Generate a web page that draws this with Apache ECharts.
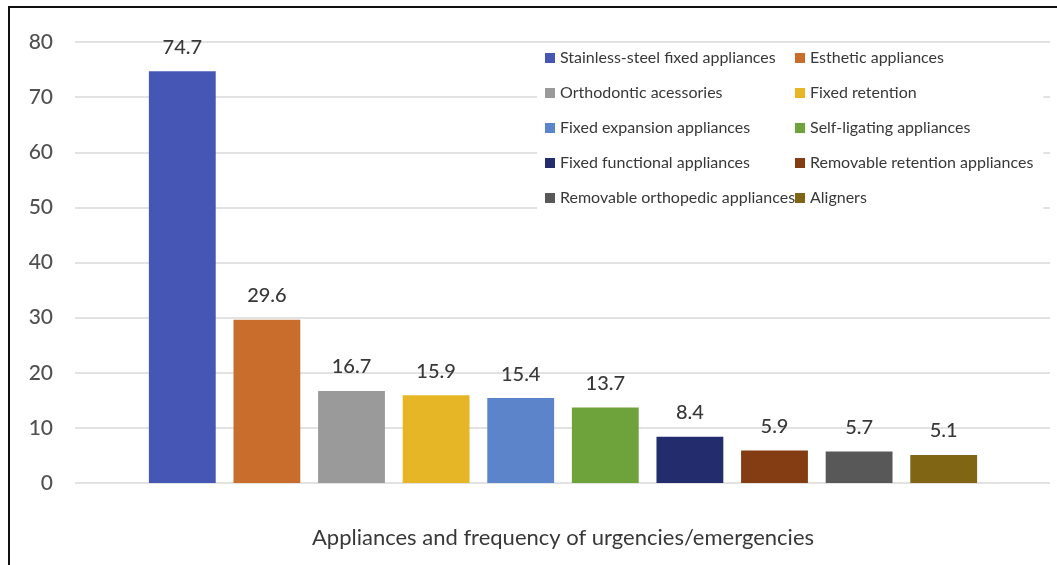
<!DOCTYPE html>
<html>
<head>
<meta charset="utf-8">
<script src="https://cdn.jsdelivr.net/npm/echarts@6/dist/echarts.min.js"></script>
<style>
  html,body{margin:0;padding:0;background:#fff;}
  #chart{position:absolute;left:0;top:0;width:1057px;height:565px;}
  #frame{position:absolute;left:8px;top:6px;width:1100px;height:600px;
    border-left:2px solid #111;border-top:2px solid #111;pointer-events:none;}
</style>
</head>
<body>
<div id="chart"></div>
<div id="frame"></div>
<script>
// data
var categories = [
  'Stainless-steel fixed appliances',
  'Esthetic appliances',
  'Orthodontic acessories',
  'Fixed retention',
  'Fixed expansion appliances',
  'Self-ligating appliances',
  'Fixed functional appliances',
  'Removable retention appliances',
  'Removable orthopedic appliances',
  'Aligners'
];
var values = [74.7, 29.6, 16.7, 15.9, 15.4, 13.7, 8.4, 5.9, 5.7, 5.1];
var colors = ['#4656b4','#c86d2c','#9a9a9a','#e7b627','#5b84cb',
              '#6ea33b','#232c6c','#843c13','#585858','#7f6514'];
var yTicks = {min: 0, max: 80, interval: 10};

var font = 'Lato, "Open Sans", sans-serif';
var txt = '#383838';

var chart = echarts.init(document.getElementById('chart'));

// one series per appliance so each gets its own legend entry
var series = categories.map(function(name, i){
  return {
    name: name,
    type: 'bar',
    stack: 'all',
    xAxisIndex: 1,
    yAxisIndex: 1,
    barWidth: '79%',
    itemStyle: {color: colors[i]},
    label: {
      show: true, position: 'top', distance: 14,
      color: txt, fontSize: 20, fontWeight: 500, fontFamily: font
    },
    data: values.map(function(v, j){ return j === i ? v : '-'; })
  };
});

var legendBase = {
  orient: 'vertical',
  top: 44,
  icon: 'rect',
  itemWidth: 10,
  itemHeight: 10,
  itemGap: 19,
  itemTextGap: 5,
  backgroundColor: '#fff',
  selectedMode: false,
  textStyle: {color: txt, fontSize: 16, fontFamily: font, lineHeight: 16}
};

chart.setOption({
  animation: false,
  grid: [
    {left: 75, right: 7, top: 42, bottom: 82},
    {left: 140, right: 71, top: 42, bottom: 82}
  ],
  legend: [
    Object.assign({}, legendBase, {
      left: 537, padding: [6, 8, 6, 8],
      data: categories.filter(function(c, i){ return i % 2 === 0; })
    }),
    Object.assign({}, legendBase, {
      left: 787, padding: [6, 10, 6, 8],
      data: categories.filter(function(c, i){ return i % 2 === 1; })
    })
  ],
  xAxis: [
    {type: 'value', gridIndex: 0, min: 0, max: 1, show: false},
    {
      type: 'category', gridIndex: 1, data: categories,
      axisLine: {show: false}, axisTick: {show: false}, axisLabel: {show: false},
      name: 'Appliances and frequency of urgencies/emergencies',
      nameLocation: 'middle', nameGap: 44,
      nameTextStyle: {color: txt, fontSize: 22, fontFamily: font}
    }
  ],
  yAxis: [
    {
      type: 'value', gridIndex: 0,
      min: yTicks.min, max: yTicks.max, interval: yTicks.interval,
      axisLine: {show: false}, axisTick: {show: false},
      axisLabel: {color: '#505050', fontSize: 21, fontWeight: 500, fontFamily: font, margin: 22},
      splitLine: {lineStyle: {color: '#d9d9d9', width: 1.5}}
    },
    {
      type: 'value', gridIndex: 1,
      min: yTicks.min, max: yTicks.max, interval: yTicks.interval,
      show: false, splitLine: {show: false}
    }
  ],
  series: series
});
</script>
</body>
</html>
